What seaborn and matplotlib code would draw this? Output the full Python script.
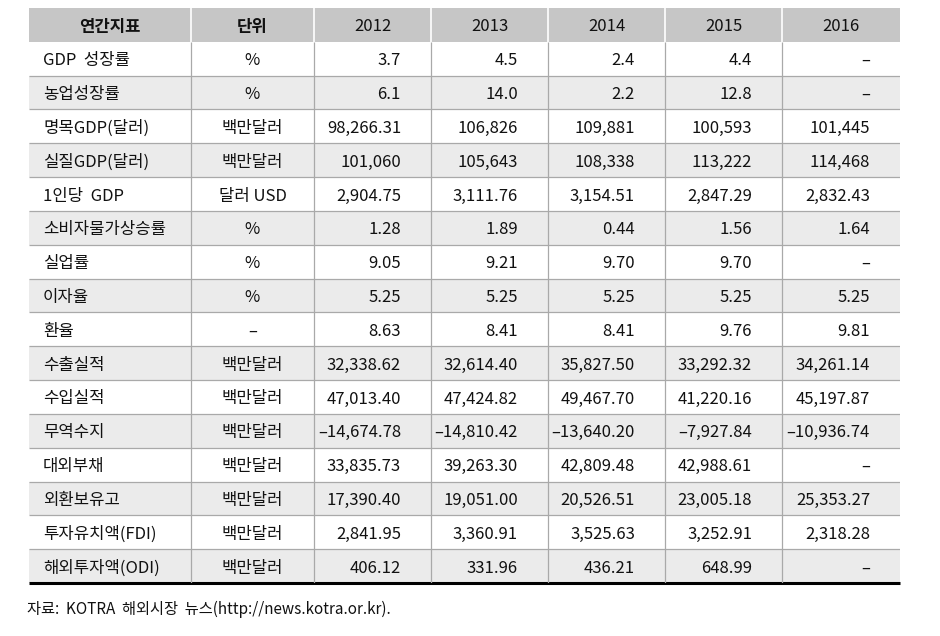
import numpy as np
import matplotlib
matplotlib.use("Agg")
import matplotlib.pyplot as plt
from matplotlib.colors import ListedColormap
import seaborn as sns

# table content
header = ["연간지표", "단위", "2012", "2013", "2014", "2015", "2016"]
indicators = ["GDP  성장률", "농업성장률", "명목GDP(달러)", "실질GDP(달러)", "1인당  GDP",
              "소비자물가상승률", "실업률", "이자율", "환율", "수출실적", "수입실적",
              "무역수지", "대외부채", "외환보유고", "투자유치액(FDI)", "해외투자액(ODI)"]
units = ["%", "%", "백만달러", "백만달러", "달러 USD", "%", "%", "%", "–",
         "백만달러", "백만달러", "백만달러", "백만달러", "백만달러", "백만달러", "백만달러"]
y2012 = ["3.7", "6.1", "98,266.31", "101,060", "2,904.75", "1.28", "9.05", "5.25", "8.63",
         "32,338.62", "47,013.40", "–14,674.78", "33,835.73", "17,390.40", "2,841.95", "406.12"]
y2013 = ["4.5", "14.0", "106,826", "105,643", "3,111.76", "1.89", "9.21", "5.25", "8.41",
         "32,614.40", "47,424.82", "–14,810.42", "39,263.30", "19,051.00", "3,360.91", "331.96"]
y2014 = ["2.4", "2.2", "109,881", "108,338", "3,154.51", "0.44", "9.70", "5.25", "8.41",
         "35,827.50", "49,467.70", "–13,640.20", "42,809.48", "20,526.51", "3,525.63", "436.21"]
y2015 = ["4.4", "12.8", "100,593", "113,222", "2,847.29", "1.56", "9.70", "5.25", "9.76",
         "33,292.32", "41,220.16", "–7,927.84", "42,988.61", "23,005.18", "3,252.91", "648.99"]
y2016 = ["–", "–", "101,445", "114,468", "2,832.43", "1.64", "–", "5.25", "9.81",
         "34,261.14", "45,197.87", "–10,936.74", "–", "25,353.27", "2,318.28", "–"]
source = "자료:  KOTRA  해외시장  뉴스(http://news.kotra.or.kr)."

sns.set_theme(style="white")
plt.rcParams['font.family'] = ['Noto Sans CJK KR', 'DejaVu Sans']

W, H = 940, 636
left, right, top, bottom = 29, 900, 8, 583
col_px = [29, 191, 314, 431, 548, 665, 782, 900]
col_x = [(c - left) / (right - left) for c in col_px]

n_rows = len(indicators) + 1
shade = np.array([[2]] + [[i % 2] for i in range(len(indicators))])

fig = plt.figure(figsize=(W / 100, H / 100), dpi=100)
ax = fig.add_axes([left / W, 1 - bottom / H, (right - left) / W, (bottom - top) / H])
sns.heatmap(shade, ax=ax, cmap=ListedColormap(["white", "#ebebeb", "#c6c6c6"]),
            vmin=-0.5, vmax=2.5, cbar=False, xticklabels=False, yticklabels=False)
ax.set_xlim(0, 1)
ax.set_ylim(n_rows, 0)

# grid lines
ax.hlines(range(2, n_rows), 0, 1, color="#a9a9a9", lw=0.9)
ax.hlines(n_rows, 0, 1, color="black", lw=2.2, clip_on=False)
ax.vlines(col_x[1:-1], 1, n_rows, color="#a9a9a9", lw=0.9)
ax.vlines(col_x[1:-1], 0, 1, color="white", lw=1.2)

fs = 12
dy = 0.06  # nudge text down a little
for j, h in enumerate(header):
    kw = {"fontweight": "bold"} if j < 2 else {}
    ax.text((col_x[j] + col_x[j + 1]) / 2, 0.5 + dy, h, ha="center", va="center",
            fontsize=fs, color="#111111", **kw)

years = [y2012, y2013, y2014, y2015, y2016]
pad = 30 / (right - left)
for i in range(len(indicators)):
    y = i + 1.5 + dy
    ax.text(col_x[0] + 14 / (right - left), y, indicators[i], ha="left", va="center",
            fontsize=fs, color="#111111")
    ax.text((col_x[1] + col_x[2]) / 2, y, units[i], ha="center", va="center",
            fontsize=fs, color="#111111")
    for k, col in enumerate(years):
        ax.text(col_x[k + 3] - pad, y, col[i], ha="right", va="center",
                fontsize=fs, color="#111111")

fig.text(27 / W, 1 - 609 / H, source, ha="left", va="center", fontsize=11, color="#111111")

fig.savefig("out.png", dpi=100)
